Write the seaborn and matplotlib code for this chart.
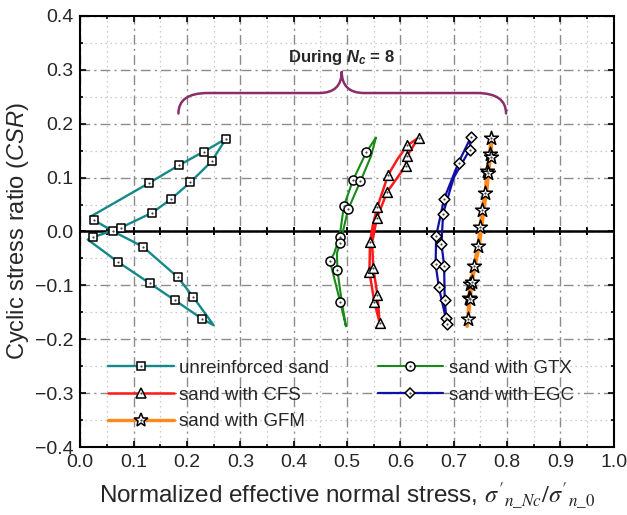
import matplotlib
matplotlib.use('Agg')
import numpy as np
import pandas as pd
import matplotlib.pyplot as plt
import seaborn as sns
from matplotlib.lines import Line2D
from matplotlib.path import Path
from matplotlib.patches import PathPatch
from matplotlib.ticker import MultipleLocator

# --- Data ---
# each loop is the traced path for cycle Nc = 8, MARK_* are the indices that carry a symbol
UNR_X = [0.020, 0.026, 0.062, 0.117, 0.183, 0.212, 0.250, 0.228, 0.178, 0.130, 0.070,
         0.014, 0.023, 0.076, 0.135, 0.170, 0.206, 0.246, 0.273, 0.231, 0.185, 0.129, 0.020]
UNR_Y = [0.028, 0.021, 0.000, -0.028, -0.085, -0.122, -0.174, -0.162, -0.128, -0.096, -0.056,
         -0.015, -0.011, 0.007, 0.035, 0.060, 0.091, 0.130, 0.172, 0.148, 0.123, 0.090, 0.028]
MARK_UNR = [1, 2, 3, 4, 5, 7, 8, 9, 10, 12, 13, 14, 15, 16, 17, 18, 19, 20, 21]

GTX_X = [0.554, 0.536, 0.511, 0.494, 0.486, 0.476, 0.468, 0.487, 0.498, 0.490, 0.482,
         0.481, 0.487, 0.502, 0.525, 0.545, 0.554]
GTX_Y = [0.174, 0.147, 0.095, 0.047, -0.010, -0.040, -0.055, -0.130, -0.176, -0.130, -0.072,
         -0.040, -0.022, 0.041, 0.093, 0.140, 0.174]
MARK_GTX = [1, 2, 3, 4, 6, 7, 10, 12, 13, 14]

CFS_X = [0.634, 0.613, 0.595, 0.577, 0.557, 0.548, 0.543, 0.542, 0.551, 0.561, 0.557,
         0.549, 0.547, 0.556, 0.575, 0.610, 0.613, 0.625, 0.634]
CFS_Y = [0.174, 0.160, 0.135, 0.105, 0.046, 0.010, -0.020, -0.075, -0.130, -0.169, -0.118,
         -0.067, -0.020, 0.025, 0.073, 0.122, 0.141, 0.160, 0.174]
MARK_CFS = [0, 1, 3, 4, 6, 7, 8, 9, 10, 11, 13, 14, 15, 16]

EGC_X = [0.732, 0.709, 0.682, 0.667, 0.666, 0.672, 0.685, 0.687, 0.683, 0.682, 0.677,
         0.680, 0.700, 0.730, 0.732]
EGC_Y = [0.175, 0.128, 0.061, -0.008, -0.061, -0.103, -0.161, -0.171, -0.128, -0.064, -0.023,
         0.033, 0.100, 0.152, 0.175]
MARK_EGC = [0, 1, 2, 3, 4, 5, 6, 7, 8, 9, 10, 11, 13]

GFM_X = [0.772, 0.770, 0.767, 0.762, 0.759, 0.753, 0.750, 0.745, 0.738, 0.731, 0.728,
         0.727, 0.725, 0.731, 0.734, 0.741, 0.748, 0.753, 0.757, 0.762, 0.765, 0.769, 0.772]
GFM_Y = [0.178, 0.173, 0.143, 0.112, 0.071, 0.040, 0.009, -0.027, -0.064, -0.097, -0.123,
         -0.163, -0.176, -0.125, -0.094, -0.060, -0.025, 0.012, 0.045, 0.075, 0.108, 0.138, 0.178]
MARK_GFM = [1, 2, 3, 4, 5, 6, 7, 8, 9, 10, 11, 13, 14, 20, 21]

LABELS = ['unreinforced sand', 'sand with GTX', 'sand with CFS', 'sand with EGC', 'sand with GFM']
COLORS = ['#14898a', '#178a17', '#ff1a1a', '#1010a8', '#ff8a1a']
MARKERS = ['s', 'o', '^', 'D', '*']
MARKER_SIZES = [5.5, 6.5, 7.0, 5.5, 10.5]
LINE_WIDTHS = [1.7, 1.5, 1.8, 1.6, 2.4]

# brace annotation "During Nc = 8"
BRACE_LEFT, BRACE_MID, BRACE_RIGHT = 0.184, 0.490, 0.798
BRACE_END_Y, BRACE_FLAT_Y, BRACE_TIP_Y = 0.219, 0.257, 0.297
BRACE_COLOR = '#8b2d6b'

OUTPUT_FILE = 'out.png'


def draw_brace(ax):
    """
    Draws the curly brace over the loops with quadratic curves.
    """
    r_end, r_mid = 0.055, 0.042
    L, M, R = BRACE_LEFT, BRACE_MID, BRACE_RIGHT
    verts = [(L, BRACE_END_Y), (L, BRACE_FLAT_Y), (L + r_end, BRACE_FLAT_Y),
             (M - r_mid, BRACE_FLAT_Y), (M, BRACE_FLAT_Y), (M, BRACE_TIP_Y),
             (M, BRACE_FLAT_Y), (M + r_mid, BRACE_FLAT_Y),
             (R - r_end, BRACE_FLAT_Y), (R, BRACE_FLAT_Y), (R, BRACE_END_Y)]
    codes = [Path.MOVETO, Path.CURVE3, Path.CURVE3,
             Path.LINETO, Path.CURVE3, Path.CURVE3,
             Path.CURVE3, Path.CURVE3,
             Path.LINETO, Path.CURVE3, Path.CURVE3]
    ax.add_patch(PathPatch(Path(verts, codes), facecolor='none', edgecolor=BRACE_COLOR,
                           lw=1.8, capstyle='round', zorder=3))
    # \mathbf is mapped to bold italic below, so only Nc gets slanted
    ax.text(M, 0.323, 'During $\\mathbf{N_c}$ = 8', ha='center', va='center', fontsize=12,
            fontweight='bold', math_fontfamily='custom')


def main():
    sns.set_style('ticks')
    plt.rcParams['font.family'] = ['Liberation Sans', 'DejaVu Sans']
    plt.rcParams['mathtext.rm'] = 'Liberation Sans'
    plt.rcParams['mathtext.it'] = 'Liberation Sans:italic'
    plt.rcParams['mathtext.bf'] = 'Liberation Sans:italic:bold'

    fig = plt.figure(figsize=(6.27, 5.15), dpi=100)
    ax = fig.add_axes([0.128, 0.132, 0.851, 0.837])

    series = [(UNR_X, UNR_Y, MARK_UNR), (GTX_X, GTX_Y, MARK_GTX), (CFS_X, CFS_Y, MARK_CFS),
              (EGC_X, EGC_Y, MARK_EGC), (GFM_X, GFM_Y, MARK_GFM)]

    handles = {}
    for i, (xs, ys, marks) in enumerate(series):
        df = pd.DataFrame({'x': xs, 'y': ys})
        sns.lineplot(data=df, x='x', y='y', sort=False, estimator=None, color=COLORS[i],
                     lw=LINE_WIDTHS[i], ax=ax, zorder=3)
        pts = df.iloc[marks]
        sns.scatterplot(data=pts, x='x', y='y', marker=MARKERS[i], s=MARKER_SIZES[i] ** 2,
                        color='white', edgecolor='black', linewidth=1.1, ax=ax, zorder=4)
        sns.scatterplot(data=pts, x='x', y='y', marker='o', s=2.5, color='#444444',
                        linewidth=0, ax=ax, zorder=5)
        main_h = Line2D([], [], color=COLORS[i], lw=LINE_WIDTHS[i], marker=MARKERS[i],
                        ms=MARKER_SIZES[i], mfc='white', mec='black', mew=1.1)
        dot_h = Line2D([], [], ls='none', marker='o', ms=1.6, mfc='#444444', mec='none')
        handles[LABELS[i]] = (main_h, dot_h)

    draw_brace(ax)

    ax.set_xlim(0.0, 1.0)
    ax.set_ylim(-0.4, 0.4)
    ax.xaxis.set_major_locator(MultipleLocator(0.1))
    ax.xaxis.set_minor_locator(MultipleLocator(0.05))
    ax.yaxis.set_major_locator(MultipleLocator(0.1))
    ax.yaxis.set_minor_locator(MultipleLocator(0.05))
    ax.xaxis.set_major_formatter(lambda v, p: f'{v:.1f}')
    ax.yaxis.set_major_formatter(lambda v, p: f'{v:.1f}'.replace('-', '\u2212'))

    ax.grid(which='major', color='#8c8c8c', lw=1.0, ls=(0, (7, 3, 1.5, 3)), zorder=0)
    ax.grid(which='minor', color='#bdbdbd', lw=0.9, ls=(0, (1, 3)), zorder=0)

    ax.tick_params(which='both', direction='in', top=True, right=True, width=1.2,
                   labelsize=14, pad=5, color='black')
    ax.tick_params(which='major', length=4.5)
    ax.tick_params(which='minor', length=2.5)
    for sp in ax.spines.values():
        sp.set_linewidth(1.5)
        sp.set_color('black')

    # the black zero line with its own crossing ticks
    ax.axhline(0.0, color='black', lw=1.8, zorder=2.5)
    zero = ax.secondary_xaxis(0.5)
    zero.xaxis.set_major_locator(MultipleLocator(0.05))
    zero.tick_params(which='major', direction='inout', length=6, width=1.4, top=True,
                     bottom=True, labelbottom=False, labeltop=False, color='black')
    for sp in zero.spines.values():
        sp.set_visible(False)

    ax.set_xlabel("Normalized effective normal stress, $\\sigma'_{n\\_Nc}/\\sigma'_{n\\_0}$",
                  fontsize=17.5, labelpad=7, math_fontfamily='stix')
    ax.set_ylabel('Cyclic stress ratio ($\\it{CSR}$)', fontsize=17, labelpad=3,
                  math_fontfamily='custom')

    order = [LABELS[0], LABELS[2], LABELS[4], LABELS[1], LABELS[3]]
    ax.legend([handles[k] for k in order], order, ncol=2, frameon=False, fontsize=13.5,
              loc='upper left', bbox_to_anchor=(0.052, 0.203), borderpad=0, borderaxespad=0,
              handlelength=3.5, handletextpad=0.28, columnspacing=2.6, labelspacing=0.52)

    plt.savefig(OUTPUT_FILE, dpi=100)
    plt.close()


if __name__ == "__main__":
    main()
